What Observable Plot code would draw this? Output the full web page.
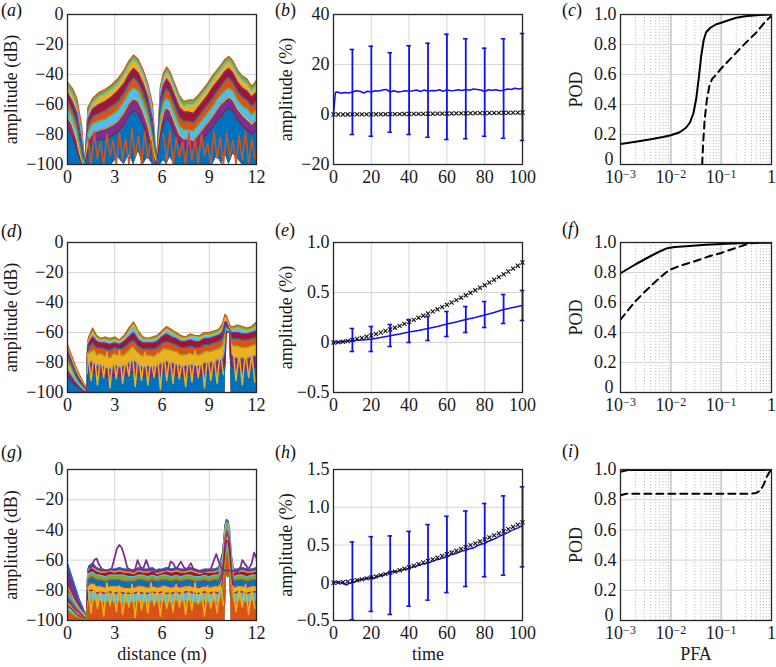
<!DOCTYPE html>
<html><head><meta charset="utf-8">
<script src="https://cdn.jsdelivr.net/npm/d3@7"></script>
<script src="https://cdn.jsdelivr.net/npm/@observablehq/plot@0.6"></script>
<style>
body{margin:0;background:#fff;}
#fig{position:relative;width:776px;height:667px;background:#fff;overflow:hidden;font-family:"Liberation Serif","Times New Roman",serif;}
#fig svg, #fig svg text, #fig svg tspan{font-family:"Liberation Serif","Times New Roman",serif !important;font-variant:normal !important;}
.plab{position:absolute;font-size:18px;line-height:20px;color:#111;white-space:nowrap;}
</style></head><body><div id="fig"></div>
<script>
// ---------- data: column 1 (amplitude vs distance) ----------
const distA = [0,0.3,0.6,0.9,1.1,1.3,1.6,2.0,2.4,2.8,3.2,3.6,3.9,4.2,4.5,4.8,5.1,5.4,5.65,5.9,6.1,6.3,6.5,6.8,7.1,7.4,7.7,8.0,8.3,8.6,8.9,9.2,9.5,9.8,10.0,10.25,10.5,10.8,11.1,11.4,11.7,12.0];
const aL1 = [-45,-49,-56,-74,-100,-62,-56,-52,-50,-47,-43,-37,-31,-27,-30,-37,-46,-60,-100,-48,-39,-35,-38,-46,-54,-58,-57,-57,-54,-50,-46,-41,-37,-33,-30,-28,-31,-37,-41,-43,-48,-44];
const aL2 = [-48,-53,-61,-80,-100,-66,-59,-55,-53,-50,-46,-40,-34,-30,-33,-40,-49,-64,-100,-51,-42,-38,-41,-49,-57,-61,-60,-60,-57,-53,-49,-44,-40,-36,-33,-31,-34,-40,-44,-46,-51,-47];
const aL3 = [-52,-58,-66,-85,-100,-70,-63,-60,-58,-55,-51,-46,-40,-36,-39,-46,-55,-70,-100,-56,-47,-43,-46,-54,-62,-65,-65,-66,-62,-58,-54,-49,-45,-41,-38,-36,-39,-45,-49,-51,-55,-52];
const aL4 = [-57,-63,-72,-90,-100,-74,-68,-66,-64,-61,-58,-52,-46,-42,-45,-52,-61,-76,-100,-62,-53,-49,-52,-60,-68,-71,-71,-72,-68,-64,-60,-56,-51,-47,-44,-42,-45,-51,-55,-57,-61,-58];
const aL5 = [-62,-68,-78,-95,-100,-79,-73,-71,-70,-67,-64,-58,-52,-49,-51,-58,-67,-82,-100,-68,-59,-56,-58,-66,-74,-77,-77,-78,-74,-70,-66,-62,-57,-53,-51,-49,-51,-57,-61,-63,-67,-64];
const aL6 = [-68,-74,-84,-100,-100,-84,-79,-77,-76,-74,-71,-65,-59,-56,-58,-65,-74,-88,-100,-74,-65,-62,-64,-72,-80,-83,-83,-84,-80,-76,-72,-68,-63,-59,-57,-55,-57,-63,-67,-70,-73,-70];
const aL7 = [-75,-81,-90,-100,-100,-90,-85,-83,-83,-81,-78,-73,-67,-64,-66,-73,-82,-94,-100,-80,-72,-69,-71,-79,-86,-89,-89,-90,-87,-83,-79,-75,-70,-67,-64,-62,-64,-70,-74,-77,-80,-77];
const aFloor = [-100,-100,-100,-100,-100,-100,-100,-100,-100,-100,-95,-100,-93,-100,-91,-100,-95,-100,-100,-100,-97,-100,-95,-100,-100,-100,-100,-100,-100,-100,-100,-100,-94,-100,-92,-100,-93,-96,-100,-100,-100,-100];
const zigX = [1.3,1.5,1.7,1.9,2.1,2.3,2.5,2.7,2.9,3.1,3.3,3.5,3.7,3.9,4.1,4.3,4.5,4.7,4.9,5.1,5.3,5.5,5.7,5.9,6.1,6.3,6.5,6.7,6.9,7.1,7.3,7.5,7.7,7.9,8.1,8.3,8.5,8.7,8.9,9.1,9.3,9.5,9.7,9.9,10.1,10.3,10.5,10.7,10.9,11.1,11.3,11.5,11.7,11.9];
const aZig = [-82,-100,-78,-96,-85,-100,-80,-94,-84,-100,-79,-97,-83,-100,-76,-95,-81,-100,-78,-96,-84,-100,NaN,NaN,-80,-98,-77,-100,-82,-95,-85,-100,-79,-97,-83,-100,-80,-94,-86,-100,-78,-96,-82,-100,-79,-95,-84,-100,-81,-97,-78,-100,-83,-96];

const distR = [0,0.25,0.5,0.75,1.0,1.2,1.28,1.35,1.6,1.85,2.1,2.4,2.7,3.0,3.3,3.6,3.9,4.2,4.5,4.8,5.1,5.4,5.7,6.0,6.3,6.6,6.9,7.2,7.5,7.8,8.1,8.4,8.7,9.0,9.3,9.6,9.85,10.0,10.1,10.2,10.3,10.4,10.55,10.8,11.1,11.4,11.7,12.0];
const dL1 = [-68,-75,-82,-88,-93,-97,-66,-63,-57,-62,-64,-63,-64,-63,-65,-62,-57,-53,-59,-63,-64,-63,-62,-59,-56,-58,-60,-62,-63,-61,-62,-62,-60,-60,-59,-58,-54,-48,-49,-52,-55,-56,-56,-55,-56,-57,-56,-53];
const dL2 = [-70,-77,-84,-90,-94,-98,-67,-65,-60,-64,-65,-65,-66,-65,-66,-64,-60,-55,-62,-65,-65,-65,-64,-61,-58,-60,-62,-64,-64,-63,-63,-64,-62,-62,-61,-60,-57,-50,-51,-54,-57,-58,-58,-57,-58,-59,-58,-56];
const dL3 = [-72,-79,-86,-91,-95,-98,-69,-67,-63,-66,-67,-67,-68,-67,-68,-66,-63,-60,-65,-67,-67,-67,-66,-63,-61,-63,-64,-66,-66,-65,-66,-66,-64,-64,-63,-62,-60,-53,-53,-56,-58,-60,-60,-60,-61,-61,-60,-59];
const dL4 = [-75,-81,-88,-93,-96,-99,-72,-70,-67,-70,-70,-71,-72,-70,-71,-70,-67,-65,-69,-71,-71,-71,-70,-67,-66,-67,-68,-70,-70,-69,-70,-70,-68,-68,-67,-66,-64,-57,-55,-57,-59,-63,-64,-64,-65,-65,-64,-63];
const dL5 = [-79,-84,-90,-94,-97,-99,-76,-74,-72,-75,-74,-76,-77,-74,-76,-75,-72,-70,-74,-76,-75,-76,-75,-72,-71,-72,-73,-75,-75,-74,-75,-75,-73,-73,-72,-71,-69,-62,-57,-58,-60,-67,-69,-69,-70,-70,-69,-68];
const dL6 = [-84,-88,-92,-95,-98,-100,-82,-80,-79,-82,-81,-83,-84,-81,-83,-82,-80,-78,-81,-83,-82,-83,-82,-80,-79,-80,-81,-82,-82,-81,-82,-82,-80,-80,-79,-78,-77,-70,-58,-59,-60,-74,-76,-77,-77,-77,-76,-75];
const dL7 = [-89,-92,-95,-97,-99,-100,-88,-87,-86,-88,-88,-89,-90,-88,-89,-89,-87,-86,-88,-89,-89,-89,-89,-87,-86,-87,-88,-89,-89,-88,-89,-89,-87,-87,-86,-86,-85,-80,-59,-60,-60,-82,-84,-85,-85,-85,-84,-83];
const dFloor = [-100,-100,-100,-100,-100,-100,-100,-100,-100,-100,-100,-100,-100,-100,-100,-100,-100,-100,-100,-100,-100,-100,-100,-100,-100,-100,-100,-100,-100,-100,-100,-100,-100,-100,-100,-100,-100,-100,-60,-60,-60,-100,-100,-100,-100,-100,-100,-100];
const dZig = [-74,-92,-72,-95,-76,-90,-73,-97,-75,-91,-72,-94,-77,-89,-70,-96,-74,-92,-73,-95,-76,-90,-74,-98,-71,-92,-75,-94,-73,-91,-77,-96,-74,-93,-72,-90,-76,-97,-73,-92,-75,-94,-72,-88,NaN,NaN,-70,-92,-74,-95,-72,-90,-75,-93];

const gL1 = [-62,-70,-78,-86,-92,-97,-67,-64,-62,-65,-66,-67,-66,-66,-65,-66,-66,-67,-65,-66,-66,-65,-67,-66,-65,-66,-65,-66,-66,-65,-66,-67,-66,-66,-66,-65,-55,-37,-33,-34,-40,-56,-66,-66,-65,-66,-66,-65];
const gL2 = [-78,-83,-88,-92,-95,-98,-68,-66,-65,-67,-68,-68,-67,-68,-67,-68,-68,-69,-67,-68,-68,-67,-69,-68,-67,-68,-67,-68,-68,-67,-68,-69,-68,-68,-68,-67,-58,-39,-35,-36,-42,-58,-68,-68,-67,-68,-68,-67];
const gL3 = [-81,-85,-89,-93,-96,-98,-70,-69,-68,-70,-70,-71,-70,-70,-70,-70,-71,-71,-70,-70,-71,-70,-71,-70,-70,-71,-70,-71,-70,-70,-71,-71,-70,-71,-70,-70,-62,-42,-37,-38,-44,-61,-71,-70,-70,-71,-70,-70];
const gL4 = [-84,-87,-91,-94,-97,-99,-73,-72,-71,-73,-73,-74,-73,-73,-73,-74,-74,-74,-73,-73,-74,-73,-74,-73,-73,-74,-73,-74,-73,-73,-74,-74,-73,-74,-73,-73,-66,-45,-40,-41,-47,-64,-74,-73,-73,-74,-73,-73];
const gL5 = [-87,-90,-93,-95,-98,-99,-77,-76,-75,-77,-77,-78,-77,-77,-77,-78,-78,-78,-77,-77,-78,-77,-78,-77,-77,-78,-77,-78,-77,-77,-78,-78,-77,-78,-77,-77,-70,-49,-43,-44,-51,-67,-78,-77,-77,-78,-77,-77];
const gL6 = [-90,-92,-95,-97,-99,-100,-81,-80,-80,-82,-81,-82,-81,-82,-81,-82,-82,-82,-81,-82,-82,-81,-82,-81,-82,-82,-81,-82,-81,-81,-82,-82,-81,-82,-81,-82,-74,-54,-47,-48,-56,-71,-82,-81,-81,-82,-81,-81];
const gL7 = [-93,-95,-97,-98,-99,-100,-87,-87,-86,-88,-87,-88,-87,-88,-87,-88,-88,-88,-87,-88,-88,-87,-88,-87,-88,-88,-87,-88,-87,-87,-88,-88,-87,-88,-87,-88,-80,-62,-54,-55,-64,-76,-88,-87,-87,-88,-87,-87];
const gFloor = [-100,-100,-100,-100,-100,-100,-100,-100,-100,-100,-100,-100,-100,-100,-100,-100,-100,-100,-100,-100,-100,-100,-100,-100,-100,-100,-100,-100,-100,-100,-100,-100,-100,-100,-100,-100,-100,-100,-70,-72,-70,-100,-100,-100,-100,-100,-100,-100];
const gZig = [-78,-95,-76,-92,-80,-97,-75,-90,-79,-94,-77,-96,-81,-91,-76,-98,-78,-93,-80,-95,-75,-90,-79,-97,-77,-92,-81,-94,-76,-91,-78,-96,-80,-93,-75,-89,-79,-97,-77,-92,-80,-95,-76,-90,NaN,NaN,-77,-94,-80,-91,-76,-96,-79,-92];
const gPurpleX = [1.3,1.5,1.7,1.85,2.0,2.2,2.5,2.8,3.0,3.15,3.3,3.45,3.6,3.8,4.1,4.3,4.45,4.6,4.8,5.0,5.2,5.5,5.8,6.1,6.4,6.55,6.7,6.9,7.2,7.4,7.6,7.83,8.0,8.3,8.6,8.9,9.1,9.3,9.45,9.6,9.8,10.0,10.5,10.8,11.0,11.1,11.3,11.5,11.7,11.85,12.0];
const gPurpleY = [-68,-65,-60,-59,-63,-66,-67,-66,-58,-52,-50,-52,-57,-65,-67,-66,-60,-64,-66,-60,-66,-68,-66,-67,-66,-61,-62,-66,-61,-65,-66,-62,-66,-67,-68,-67,-66,-60,-56,-61,-66,-67,-67,-68,-64,-60,-63,-66,-62,-55,-59];

// ---------- data: column 2 (amplitude vs time) ----------
const markTime = [0,2.5,5,7.5,10,12.5,15,17.5,20,22.5,25,27.5,30,32.5,35,37.5,40,42.5,45,47.5,50,52.5,55,57.5,60,62.5,65,67.5,70,72.5,75,77.5,80,82.5,85,87.5,90,92.5,95,97.5,100];
const trueAmp = [0,0.003,0.008,0.015,0.025,0.035,0.045,0.058,0.07,0.085,0.1,0.115,0.13,0.148,0.166,0.186,0.206,0.226,0.247,0.268,0.29,0.31,0.332,0.354,0.377,0.4,0.424,0.448,0.472,0.497,0.522,0.547,0.573,0.6,0.627,0.654,0.682,0.71,0.739,0.768,0.8];
const errTime = [10,20,30,40,50,60,70,80,90,100];

const bTime = [0,1,2,4,6,8,10,12,14,16,18,20,22,24,26,28,30,32,34,36,38,40,42,44,46,48,50,52,54,56,58,60,62,64,66,68,70,72,74,76,78,80,82,84,86,88,90,92,94,96,98,100];
const bMean = [0,8.8,9.0,8.5,8.8,8.6,9.0,9.5,9.3,8.6,9.3,9.0,9.5,9.4,9.8,10.0,9.0,9.5,9.0,9.2,9.5,9.3,9.5,9.8,9.2,9.8,9.3,9.6,9.5,9.9,9.3,9.9,9.5,9.6,9.9,9.6,10.0,9.7,10.2,10.0,9.8,9.2,9.9,9.7,9.9,9.5,9.7,10.2,10.0,10.5,10.2,10.5];
const bErrLow = [-8,-8.7,-7.1,-8,-9.1,-10,-9.7,-8.7,-9.5,-10.4];
const bErrHigh = [26,27.3,24.7,27.5,28.5,32.1,30.3,26.5,30.3,32.4];

const eTime = [0,5,10,15,20,25,30,35,40,45,50,55,60,65,70,75,80,85,90,95,100];
const eMean = [0,0.01,0.02,0.025,0.033,0.05,0.068,0.085,0.105,0.12,0.14,0.16,0.185,0.205,0.23,0.25,0.275,0.3,0.33,0.35,0.37];
const eErrLow = [-0.09,-0.09,-0.04,0.0,0.02,0.06,0.10,0.15,0.19,0.22];
const eErrHigh = [0.14,0.16,0.18,0.23,0.26,0.31,0.36,0.41,0.48,0.52];

const hTime = [0,2,4,6,7,8,10,12,14,16,18,20,22,24,26,28,30,32,34,36,38,40,42,44,46,48,50,52,54,56,58,60,62,64,66,68,70,72,74,76,78,80,82,84,86,88,90,92,94,96,98,100];
const hMean = [0,0.01,0.0,-0.02,-0.03,-0.01,0.0,0.02,0.04,0.05,0.06,0.07,0.06,0.09,0.1,0.12,0.14,0.15,0.15,0.17,0.18,0.19,0.21,0.22,0.24,0.25,0.26,0.28,0.3,0.31,0.33,0.34,0.37,0.38,0.4,0.42,0.43,0.45,0.46,0.49,0.51,0.52,0.55,0.57,0.59,0.62,0.64,0.66,0.69,0.71,0.73,0.76];
const hErrLow = [-0.49,-0.38,-0.42,-0.31,-0.23,-0.13,-0.05,0.08,0.10,0.21];
const hErrHigh = [0.54,0.61,0.62,0.68,0.77,0.88,0.95,1.05,1.15,1.27];

// ---------- data: column 3 (ROC curves) ----------
const cSolidPFA = [0.001,0.002,0.004,0.007,0.01,0.015,0.02,0.024,0.028,0.032,0.036,0.04,0.045,0.05,0.06,0.08,0.1,0.15,0.2,0.3,0.5,1];
const cSolidPOD = [0.137,0.152,0.168,0.183,0.195,0.215,0.245,0.28,0.34,0.44,0.58,0.72,0.83,0.88,0.91,0.935,0.945,0.965,0.978,0.988,0.995,1.0];
const cDashPFA = [0.042,0.044,0.047,0.052,0.058,0.066,0.08,0.1,0.13,0.18,0.25,0.35,0.5,0.7,0.85,1];
const cDashPOD = [0,0.15,0.3,0.43,0.52,0.57,0.60,0.64,0.68,0.73,0.78,0.83,0.88,0.94,0.97,0.99];
const fSolidPFA = [0.001,0.002,0.004,0.006,0.0085,0.012,0.02,0.05,0.1,0.3,1];
const fSolidPOD = [0.795,0.855,0.91,0.94,0.962,0.97,0.975,0.985,0.99,0.997,1.0];
const fDashPFA = [0.001,0.0015,0.002,0.003,0.005,0.008,0.01,0.015,0.03,0.06,0.1,0.2,0.3,0.4,0.6,1];
const fDashPOD = [0.485,0.56,0.61,0.67,0.74,0.80,0.82,0.845,0.875,0.91,0.93,0.965,0.985,0.995,1.0,1.0];
const iSolidPFA = [0.001,0.0014,0.01,0.1,0.7,1];
const iSolidPOD = [0.985,0.996,0.997,0.997,0.997,1.0];
const iDashPFA = [0.001,0.0013,0.01,0.1,0.4,0.5,0.6,0.7,0.8,0.9,1];
const iDashPOD = [0.83,0.84,0.84,0.84,0.84,0.845,0.86,0.9,0.95,0.98,1.0];

// ---------- ticks ----------
const distTicks = [0,3,6,9,12];
const dbTicks = [0,-20,-40,-60,-80,-100];
const timeTicks = [0,20,40,60,80,100];
const bTicks = [-20,0,20,40];
const eTicks = [-0.5,0,0.5,1.0];
const hTicks = [-0.5,0,0.5,1.0,1.5];
const pfaTicks = [0.001,0.01,0.1,1];
const pfaLabels = ["10^−3","10^−2","10^−1","1"];
const podTicks = [0,0.2,0.4,0.6,0.8,1.0];
const pfaMinor = [0.002,0.003,0.004,0.005,0.006,0.007,0.008,0.009,0.02,0.03,0.04,0.05,0.06,0.07,0.08,0.09,0.2,0.3,0.4,0.5,0.6,0.7,0.8,0.9];

const aColors = ["#77AC30","#EDB120","#A2142F","#D95319","#4DBEEE","#7E2F8E","#0072BD"];
const dColors = ["#77AC30","#4DBEEE","#A2142F","#D95319","#EDB120","#7E2F8E","#0072BD"];
const gColors = ["#7E2F8E","#A2142F","#77AC30","#0072BD","#EDB120","#4DBEEE","#D95319"];
const BLUE = "#1010f0";

// ---------- layout ----------
const STYLE = "font-family:'Liberation Serif','Times New Roman',serif;font-size:18px;color:#1a1a1a;background:transparent;overflow:visible;";
const COLS = [{left:0,width:262,ml:67,mr:6,yt:-56},{left:262,width:266,ml:71,mr:6,yt:-47},{left:528,width:248,ml:92,mr:5,yt:-44}];
const ROWS = [{top:0,height:214,mt:14,mb:50},{top:214,height:214,mt:28,mb:36},{top:428,height:239,mt:41,mb:47}];
const fig = document.getElementById("fig");

const intFmt = d => d === 0 ? "0" : (d < 0 ? "−" : "") + Math.abs(d);
const decFmt = d => d === 0 ? "0" : (d < 0 ? "−" : "") + Math.abs(d).toFixed(1);
const gridStyle = {stroke:"#d6d6d6", strokeWidth:1};

function panel(ci, ri, o) {
  const c = COLS[ci], r = ROWS[ri];
  const marks = [...o.marks,
    Plot.frame({stroke:"#262626", strokeWidth:1.3}),
    Plot.text([o.ylabel], {text: d => d, frameAnchor:"left", textAnchor:"middle", lineAnchor:"middle", rotate:-90, dx:c.yt, fontSize:18})];
  if (o.xlabel) marks.push(Plot.text([o.xlabel], {text: d => d, frameAnchor:"bottom", textAnchor:"middle", lineAnchor:"middle", dy:34, fontSize:18}));
  const svg = Plot.plot({
    width:c.width, height:r.height, marginLeft:c.ml, marginRight:c.mr, marginTop:r.mt, marginBottom:r.mb,
    style:STYLE,
    x:{...o.x, label:null, tickSize:0, tickPadding:6},
    y:{...o.y, label:null, tickSize:0, tickPadding:4},
    marks
  });
  svg.style.position = "absolute";
  svg.style.left = c.left + "px";
  svg.style.top = r.top + "px";
  svg.querySelectorAll("text").forEach(t => {
    t.setAttribute("font-family", "Liberation Serif");
    const m = /^10\^(.+)$/.exec(t.textContent);
    if (m && t.children.length === 0) {
      t.textContent = "10";
      const ts = document.createElementNS("http://www.w3.org/2000/svg","tspan");
      ts.setAttribute("dy","-0.42em");
      ts.setAttribute("font-size","12px");
      ts.textContent = m[1];
      t.appendChild(ts);
    }
  });
  if (o.raiseZero) {
    svg.querySelectorAll('[aria-label^="y-axis"] text').forEach(t => {
      if (t.textContent === "0") t.setAttribute("transform", (t.getAttribute("transform") || "") + " translate(-3,-5)");
    });
  }
  fig.appendChild(svg);
}

function spaghetti(xs, layers, floor, colors) {
  const rows = layers.map(L => xs.map((x,j) => ({x, y:L[j], f: Math.min(floor[j], L[j])})));
  const marks = [];
  rows.forEach((data,i) => marks.push(Plot.areaY(data, {x:"x", y1:"f", y2:"y", fill:colors[i], clip:true})));
  rows.forEach((data,i) => marks.push(Plot.line(data, {x:"x", y:"y", stroke:colors[(i+3)%colors.length], strokeWidth:1.2, clip:true})));
  return marks;
}

function distPanel(ri, xs, layers, floor, colors, zig, zigColor, extra, xlabel) {
  panel(0, ri, {
    x:{domain:[0,12], ticks:distTicks},
    y:{domain:[-100,0], ticks:dbTicks, tickFormat:intFmt},
    ylabel:"amplitude (dB)", xlabel,
    marks:[
      Plot.ruleX([3,6,9], gridStyle),
      Plot.ruleY([-20,-40,-60,-80], gridStyle),
      ...spaghetti(xs, layers, floor, colors),
      Plot.line(zigX.map((x,i)=>({x, y:zig[i]})), {x:"x", y:"y", stroke:zigColor, strokeWidth:1.5, clip:true}),
      ...(extra || [])
    ]
  });
}

distPanel(0, distA, [aL1,aL2,aL3,aL4,aL5,aL6,aL7], aFloor, aColors, aZig, "#D95319");
distPanel(1, distR, [dL1,dL2,dL3,dL4,dL5,dL6,dL7], dFloor, dColors, dZig, "#EDB120");
distPanel(2, distR, [gL1,gL2,gL3,gL4,gL5,gL6,gL7], gFloor, gColors, gZig, "#EDB120",
  [Plot.line(gPurpleX.map((x,i)=>({x, y:gPurpleY[i]})), {x:"x", y:"y", stroke:"#7E2F8E", strokeWidth:1.8, clip:true})],
  "distance (m)");

function timePanel(ri, domain, ticks, fmt, gridY, mt, mv, lo, hi, xlabel) {
  const meanData = mt.map((t,i)=>({t, v:mv[i]}));
  const errData = errTime.map((t,i)=>({t, lo:lo[i], hi:hi[i]}));
  const trueData = markTime.map((t,i)=>({t, v:trueAmp[i]}));
  panel(1, ri, {
    x:{domain:[0,100], ticks:timeTicks},
    y:{domain, ticks, tickFormat:fmt},
    ylabel:"amplitude (%)", xlabel,
    marks:[
      Plot.ruleX([20,40,60,80], gridStyle),
      Plot.ruleY(gridY, gridStyle),
      Plot.line(meanData, {x:"t", y:"v", stroke:BLUE, strokeWidth:1.5}),
      Plot.ruleX(errData, {x:"t", y1:"lo", y2:"hi", stroke:BLUE, strokeWidth:1.8}),
      Plot.ruleY(errData, {y:"lo", x1:d=>d.t-1.2, x2:d=>d.t+1.2, stroke:BLUE, strokeWidth:1.6}),
      Plot.ruleY(errData, {y:"hi", x1:d=>d.t-1.2, x2:d=>d.t+1.2, stroke:BLUE, strokeWidth:1.6}),
      Plot.dot(trueData, {x:"t", y:"v", symbol:"times", r:2.0, stroke:"#111", strokeWidth:1.1, fill:"none"})
    ]
  });
}
timePanel(0, [-20,40], bTicks, intFmt, [0,20], bTime, bMean, bErrLow, bErrHigh);
timePanel(1, [-0.5,1.0], eTicks, decFmt, [0,0.5], eTime, eMean, eErrLow, eErrHigh);
timePanel(2, [-0.5,1.5], hTicks, decFmt, [0,0.5,1.0], hTime, hMean, hErrLow, hErrHigh, "time");

function rocPanel(ri, sx, sy, dx, dy, xlabel) {
  panel(2, ri, {
    raiseZero: true,
    x:{type:"log", domain:[0.001,1], ticks:pfaTicks, tickFormat:d => pfaLabels[pfaTicks.indexOf(d)]},
    y:{domain:[0,1], ticks:podTicks, tickFormat:decFmt},
    ylabel:"POD", xlabel,
    marks:[
      Plot.ruleX(pfaMinor, {stroke:"#b8b8b8", strokeWidth:0.9, strokeDasharray:"1.2,1.8"}),
      Plot.ruleX([0.01,0.1], {stroke:"#d0d0d0", strokeWidth:2}),
      Plot.ruleY([0.2,0.4,0.6,0.8], gridStyle),
      Plot.line(sx.map((x,i)=>({x, y:sy[i]})), {x:"x", y:"y", stroke:"#000", strokeWidth:2, clip:true}),
      Plot.line(dx.map((x,i)=>({x, y:dy[i]})), {x:"x", y:"y", stroke:"#000", strokeWidth:2, strokeDasharray:"7,5", clip:true})
    ]
  });
}
rocPanel(0, cSolidPFA, cSolidPOD, cDashPFA, cDashPOD);
rocPanel(1, fSolidPFA, fSolidPOD, fDashPFA, fDashPOD);
rocPanel(2, iSolidPFA, iSolidPOD, iDashPFA, iDashPOD, "PFA");

// ---------- panel letters ----------
const panelLetters = ["a","b","c","d","e","f","g","h","i"];
const letterPos = [[1,0],[275,0],[562,0],[1,221],[275,220],[562,219],[1,442],[275,442],[562,441]];
panelLetters.forEach((l,i) => {
  const d = document.createElement("div");
  d.className = "plab";
  d.style.left = letterPos[i][0] + "px";
  d.style.top = letterPos[i][1] + "px";
  d.innerHTML = "(<i>" + l + "</i>)";
  fig.appendChild(d);
});
</script></body></html>
